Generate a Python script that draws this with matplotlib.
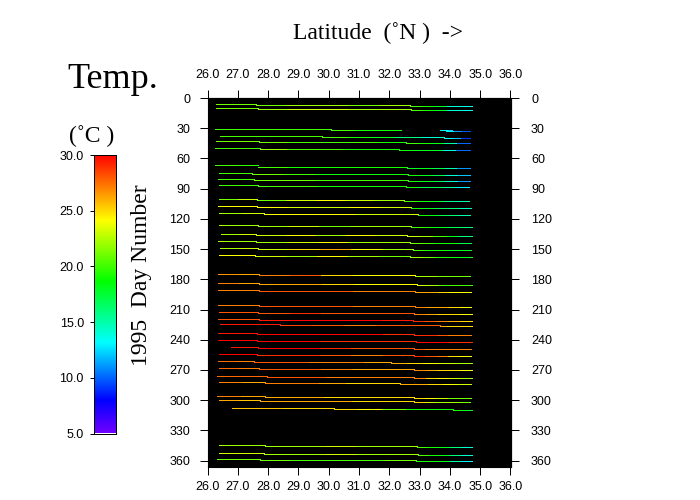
import matplotlib
matplotlib.use("Agg")
import matplotlib.pyplot as plt
import numpy as np
from matplotlib.colors import LinearSegmentedColormap, Normalize

_FONT_SERIF = "Liberation Serif"
_FONT_SANS = "Liberation Sans"

LAT_TICKS = [26.0, 27.0, 28.0, 29.0, 30.0, 31.0, 32.0, 33.0, 34.0, 35.0, 36.0]
DAY_TICKS = [0, 30, 60, 90, 120, 150, 180, 210, 240, 270, 300, 330, 360]
TEMP_TICKS = [5.0, 10.0, 15.0, 20.0, 25.0, 30.0]

# first day of each crossing; every following leg sits one day later
START_DAYS = [6, 10, 31, 38, 43, 50, 67, 74, 80, 86, 100, 107, 114, 126, 135, 142, 149, 156,
              175, 184, 191, 205, 212, 219, 224, 233, 240, 247, 254, 261, 268, 276, 282,
              296, 300, 308, 344, 352, 358]

# latitude of leg ends: start, leg 1/2, leg 2/3, end
LEG_LATS = [
    [26.29, 27.59, 32.67, 34.72], [26.29, 27.66, 32.70, 34.72], [26.26, 30.09, 32.39, 32.39],
    [26.42, 29.79, 33.82, 34.66], [26.29, 27.70, 32.56, 34.66], [26.26, 27.72, 32.32, 34.66],
    [26.26, 27.66, 32.59, 34.66], [26.39, 27.48, 32.62, 34.66], [26.36, 27.52, 32.62, 34.66],
    [26.39, 27.66, 32.56, 34.62], [26.39, 27.62, 32.49, 34.62], [26.36, 27.63, 32.72, 34.69],
    [26.39, 27.86, 32.94, 34.66], [26.39, 27.67, 32.72, 34.72], [26.46, 27.60, 32.57, 34.72],
    [26.36, 27.61, 32.67, 34.69], [26.42, 27.66, 32.79, 34.69], [26.39, 27.57, 32.69, 34.72],
    [26.36, 27.69, 32.86, 34.66], [26.36, 27.69, 32.92, 34.72], [26.36, 27.69, 32.86, 34.69],
    [26.36, 27.69, 32.86, 34.69], [26.39, 27.68, 32.82, 34.72], [26.36, 27.69, 32.79, 34.72],
    [26.42, 28.39, 33.68, 34.72], [26.36, 27.62, 32.82, 34.69], [26.36, 27.62, 32.87, 34.72],
    [26.79, 27.66, 32.81, 34.69], [26.39, 27.62, 32.82, 34.69], [26.36, 27.53, 32.06, 34.72],
    [26.39, 27.69, 32.82, 34.72], [26.32, 27.96, 32.82, 34.72], [26.39, 27.89, 32.36, 34.69],
    [26.32, 27.89, 32.80, 34.69], [26.39, 27.72, 32.80, 34.66], [26.82, 30.19, 34.10, 34.72],
    [26.39, 27.90, 32.90, 34.72], [26.39, 27.86, 32.96, 34.72], [26.32, 27.72, 32.89, 34.72],
]

LEG1_TEMPS = [
    [21, 21], [21, 21], [20, 20], [20, 20], [21, 21], [20, 20],
    [20, 19.5], [20, 20], [20, 20], [20, 20], [21, 23], [24, 24],
    [22, 23], [22, 22], [22, 23], [22, 22], [22, 23], [24, 24],
    [26.5, 26], [27, 26], [27, 27], [27, 27], [28, 28], [28, 28],
    [29.5, 29.5], [29.5, 29.5], [30, 30], [29.5, 29.5], [30, 30], [27.5, 27],
    [27.5, 27], [27.5, 27.5], [27, 26], [27, 26], [26, 25.5], [25.5, 25],
    [22, 22], [23, 23], [21, 21],
]
LEG2_TEMPS = [
    [21, 22, 22, 21, 22], [22, 23, 23, 22, 22], [20, 19, 19], [20, 19, 18, 16, 14],
    [21, 20, 20, 20, 19], [22, 20, 20, 19, 19], [20, 19, 19, 19, 19], [21, 20, 19, 19, 19],
    [21, 21, 20, 20, 20], [20, 20, 19, 19, 19], [21, 23, 24, 23, 22], [24, 23, 23, 24, 23],
    [24, 24, 24, 23, 23], [22, 23, 21, 22, 22], [23, 24, 22, 24, 23], [22, 23, 24, 22, 22],
    [23, 25, 26, 24, 22], [23, 22, 24, 22, 21], [27, 28, 25, 24, 24], [26, 26, 25, 24, 24],
    [28, 28, 28, 27, 27], [28, 28, 28, 27, 27], [28, 29, 28, 28, 28], [29.5, 30, 30, 30, 29.5],
    [28.5, 28, 27, 28, 28], [30, 30, 30, 30, 29], [30, 30, 29, 29, 29], [30, 30, 29, 28, 28],
    [29, 29, 28, 27, 28], [28, 28, 27, 27, 26], [28, 28, 27, 26, 26], [28, 28, 27, 27, 27],
    [27, 27, 26, 25, 25], [26, 26, 25, 25, 25], [26, 26, 26, 25, 25], [25, 24, 21, 19, 19],
    [22, 22, 23, 22, 22], [22, 22, 23, 22, 22], [21, 20, 20, 20, 21],
]
LEG3_TEMPS = [
    [20, 19, 18, 14, 13.5], [20, 19, 18, 14, 13.5], [], [13.5, 12, 9],
    [20, 19, 18, 15, 10], [19, 18, 18, 14, 10], [18, 18, 17, 15, 11], [19, 18, 17, 14, 12],
    [19, 18, 17, 14, 11], [19, 17, 17, 15, 13], [20, 19, 18, 16, 15], [19, 18, 17, 16, 14.5],
    [19, 18, 17, 16, 15], [20, 19, 18, 17, 16], [23, 22, 20, 18, 16], [21, 20, 19, 19, 17],
    [20, 19, 19, 18, 18], [22, 21, 19, 19, 18], [22, 22, 21, 21, 21], [23, 22, 20, 20, 20],
    [26, 26, 25, 24, 24], [27, 26, 26, 25, 24], [27, 26, 25, 25, 24], [29, 28, 27, 26, 25],
    [26, 25, 25, 25, 25], [29, 29, 28, 27, 27], [30, 30, 30, 29, 29], [28, 27, 27, 27, 27],
    [29, 28, 27, 25, 24], [26, 25, 24, 23, 22], [27, 26, 25, 25, 24], [27, 25, 24, 23, 22],
    [26, 26, 25, 24, 23], [25, 24, 23, 21, 21], [25, 23, 22, 22, 21], [19, 18],
    [20, 19, 18, 16, 14], [20, 19, 18, 16, 14], [19, 19, 18, 15, 13],
]

# short pieces left over from the broken crossing near day 32
EXTRA_DAYS = [32, 33]
EXTRA_LATS = [[33.66, 34.06], [33.87, 34.66]]
EXTRA_TEMPS = [[13, 13, 12], [13, 11, 9.5]]

# colour bar stops: temperature, colour
CMAP_TEMPS = [5.0, 7.9, 13.1, 18.6, 24.1, 30.0]
CMAP_COLORS = ["#7000ff", "#0000ff", "#00ffff", "#00ff00", "#ffff00", "#ff0000"]


def _make_cmap():
    stops = [(t - CMAP_TEMPS[0]) / (CMAP_TEMPS[-1] - CMAP_TEMPS[0]) for t in CMAP_TEMPS]
    return LinearSegmentedColormap.from_list("temp", list(zip(stops, CMAP_COLORS)))


def _draw_leg(ax, day, lat0, lat1, temps, cmap, norm):
    if not temps:
        return
    edges = np.linspace(lat0, lat1, len(temps) + 1)
    for left, right, temp in zip(edges[:-1], edges[1:], temps):
        ax.plot([left, right], [day, day], color=cmap(norm(temp)), lw=0.72,
                solid_capstyle="butt", antialiased=False)


def _sans_labels(axis):
    for label in axis.get_ticklabels():
        label.set_fontfamily(_FONT_SANS)


def _section(ax, cmap, norm):
    ax.set_facecolor("black")
    for i, day in enumerate(START_DAYS):
        lats = LEG_LATS[i]
        _draw_leg(ax, day, lats[0], lats[1], LEG1_TEMPS[i], cmap, norm)
        _draw_leg(ax, day + 1, lats[1], lats[2], LEG2_TEMPS[i], cmap, norm)
        _draw_leg(ax, day + 2, lats[2], lats[3], LEG3_TEMPS[i], cmap, norm)
    for day, lats, temps in zip(EXTRA_DAYS, EXTRA_LATS, EXTRA_TEMPS):
        _draw_leg(ax, day, lats[0], lats[1], temps, cmap, norm)

    ax.set_xlim(26.0, 36.0)
    ax.set_ylim(366, 0)
    lat_labels = [f"{t:.1f}" for t in LAT_TICKS]
    day_labels = [str(d) for d in DAY_TICKS]

    ax.set_xticks(LAT_TICKS, lat_labels)
    ax.set_yticks(DAY_TICKS, day_labels)
    ax.tick_params(axis="x", length=5.8, width=0.72, labelsize=9, pad=4.5)
    ax.tick_params(axis="y", length=5.8, width=0.72, labelsize=9, pad=6.5)
    _sans_labels(ax.xaxis)
    _sans_labels(ax.yaxis)

    top = ax.secondary_xaxis("top")
    top.set_xticks(LAT_TICKS, lat_labels)
    top.tick_params(length=5.8, width=0.72, labelsize=9, pad=6.5)
    _sans_labels(top.xaxis)

    right = ax.secondary_yaxis("right")
    right.set_yticks(DAY_TICKS, day_labels)
    right.tick_params(length=5.8, width=0.72, labelsize=9, pad=9)
    _sans_labels(right.yaxis)


def _colorbar(ax, cmap):
    ramp = np.linspace(CMAP_TEMPS[0], CMAP_TEMPS[-1], 256).reshape(-1, 1)
    ax.imshow(ramp, origin="lower", aspect="auto", cmap=cmap,
              extent=[0, 1, CMAP_TEMPS[0], CMAP_TEMPS[-1]])
    ax.set_xticks([])
    ax.set_yticks(TEMP_TICKS, [f"{t:.1f}" for t in TEMP_TICKS])
    ax.tick_params(length=3, width=0.72, labelsize=9, pad=4.5)
    _sans_labels(ax.yaxis)
    for spine in ax.spines.values():
        spine.set_linewidth(0.72)


def main():
    fig = plt.figure(figsize=(7, 5), dpi=100)
    cmap = _make_cmap()
    norm = Normalize(CMAP_TEMPS[0], CMAP_TEMPS[-1])

    ax = fig.add_axes([207.5 / 700, 1 - 466.7 / 500, 303 / 700, 368.7 / 500])
    _section(ax, cmap, norm)

    cax = fig.add_axes([94.3 / 700, 1 - 433.5 / 500, 21.5 / 700, 278.5 / 500])
    _colorbar(cax, cmap)

    fig.text(378 / 700, 1 - 33 / 500, "Latitude  (\u02daN )  ->", family=_FONT_SERIF,
             fontsize=17, ha="center", va="center")
    fig.text(113 / 700, 1 - 80 / 500, "Temp.", family=_FONT_SERIF, fontsize=26,
             ha="center", va="center")
    fig.text(92 / 700, 1 - 136 / 500, "(\u02daC )", family=_FONT_SERIF, fontsize=17,
             ha="center", va="center")
    fig.text(141 / 700, 1 - 275 / 500, "1995  Day Number", family=_FONT_SERIF, fontsize=17,
             rotation=90, ha="center", va="center")

    fig.savefig("out.png", dpi=100)


if __name__ == "__main__":
    main()
